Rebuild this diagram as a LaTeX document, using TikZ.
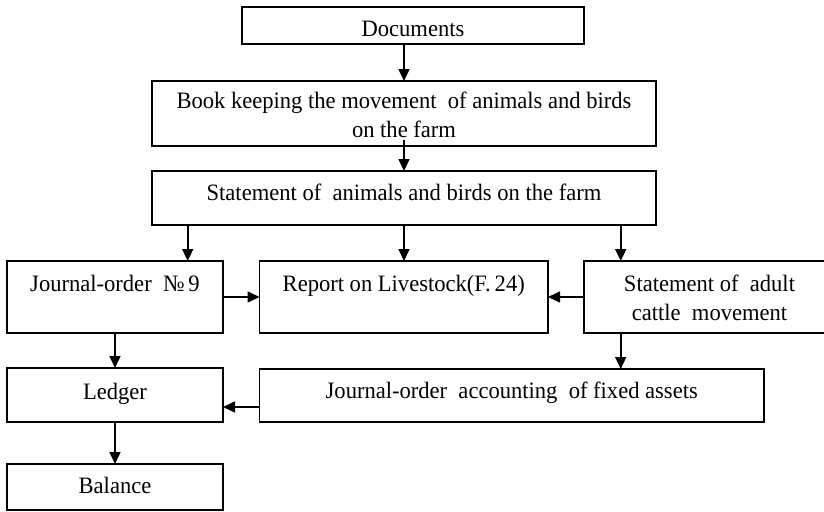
\documentclass[tikz,border=0pt]{standalone}
\usepackage{fontspec}
\setmainfont{Liberation Serif}[FakeStretch=0.96]
\usetikzlibrary{arrows.meta}
\begin{document}
\begin{tikzpicture}[x=1pt,y=-1pt,
  box/.style={draw=black,line width=1.3pt,inner sep=0pt,outer sep=0pt},
  lbl/.style={inner sep=0pt,outer sep=0pt,align=center,anchor=north,
    font=\fontsize{23.5pt}{28.5pt}\selectfont},
  arr/.style={line width=1.6pt,-{Triangle[length=12pt,width=11pt]}}]
\useasboundingbox (0,0) rectangle (824,511);
\clip (0,0) rectangle (824,511);
\fill[white] (0,0) rectangle (824,511);
\node[box,minimum width=342pt,minimum height=37pt] (doc) at (413,25.5) {};
\node[box,minimum width=504pt,minimum height=65pt] (bk) at (404,113.5) {};
\node[box,minimum width=504pt,minimum height=54pt] (st) at (404,198) {};
\node[box,minimum width=216pt,minimum height=72pt] (jo) at (115,297) {};
\node[box,minimum width=288.5pt,minimum height=72pt] (rep) at (403.75,297) {};
\node[box,minimum width=251pt,minimum height=72pt] (sac) at (709.5,297) {};
\node[box,minimum width=216pt,minimum height=54pt] (led) at (115,395) {};
\node[box,minimum width=504.5pt,minimum height=53pt] (joa) at (511.75,395.5) {};
\node[box,minimum width=216pt,minimum height=46pt] (bal) at (115,487) {};
\node[lbl] (docT) at ([yshift=-9.5pt]doc.north) {\strut Documents};
\node[lbl] (bkT) at ([yshift=-8pt]bk.north) {\strut Book keeping the movement\ \ of animals and birds\\\strut on the farm};
\node[lbl] (stT) at ([yshift=-9.7pt]st.north) {\strut Statement of\ \ animals and birds on the farm};
\node[lbl] (joT) at ([yshift=-10.7pt]jo.north) {\strut Journal-order\ \ №\,9};
\node[lbl] (repT) at ([yshift=-10.7pt]rep.north) {\strut Report on Livestock(F.\,24)};
\node[lbl] (sacT) at ([yshift=-10.7pt]sac.north) {\strut Statement of\ \ adult\\\strut cattle\ \ movement};
\node[lbl] (ledT) at ([yshift=-12pt]led.north) {\strut Ledger};
\node[lbl] (joaT) at ([yshift=-10pt]joa.north) {\strut Journal-order\ \ accounting\ \ of fixed assets};
\node[lbl] (balT) at ([yshift=-9.4pt]bal.north) {\strut Balance};
\coordinate (cl) at (187.7,0);
\coordinate (cr) at (620.7,0);
\coordinate (ch) at (0,407);
\draw[arr] (doc.south -| bk.north) -- (bk.north);
\draw[arr] ([yshift=6pt]bk.south) -- (st.north);
\draw[arr] (st.south -| cl) -- (jo.north -| cl);
\draw[arr] (st.south) -- (rep.north -| st.south);
\draw[arr] (st.south -| cr) -- (sac.north -| cr);
\draw[arr] (jo.east) -- (rep.west);
\draw[arr] (sac.west) -- (rep.east);
\draw[arr] (jo.south) -- (led.north);
\draw[arr] (sac.south -| cr) -- (joa.north -| cr);
\draw[arr] (joa.west |- ch) -- (led.east |- ch);
\draw[arr] (led.south) -- (bal.north);
\end{tikzpicture}
\end{document}
